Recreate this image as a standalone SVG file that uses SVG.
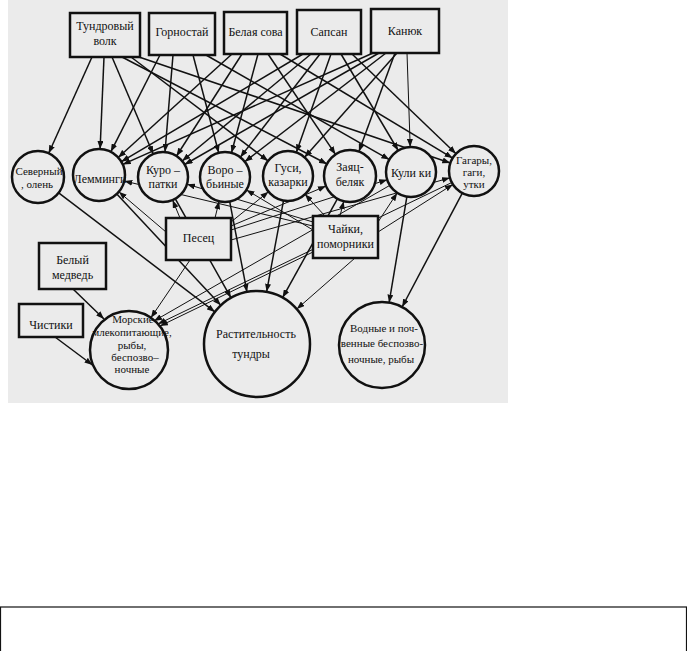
<svg xmlns="http://www.w3.org/2000/svg" width="687" height="651" viewBox="0 0 687 651">
<defs>
<marker id="ah" viewBox="0 0 8 6" refX="8" refY="3" markerWidth="8" markerHeight="6" markerUnits="userSpaceOnUse" orient="auto">
<path d="M0,0 L8,3 L0,6 z" fill="#111"/>
</marker>
</defs>
<style>
.bx{fill:#ebebeb;stroke:#111;stroke-width:2.5}
.cr{fill:#ebebeb;stroke:#111;stroke-width:2.5}
.t{font-family:"Liberation Serif","DejaVu Serif","Times New Roman",serif;font-size:12px;fill:#111;text-anchor:middle}
.s{font-size:11px}
#connectors line{stroke:#111;stroke-width:1.5;marker-end:url(#ah)}
#connectors line.th{stroke-width:1}
</style>
<rect x="0" y="0" width="687" height="651" fill="#fff"/>
<rect x="8" y="0" width="500" height="403" fill="#ebebeb"/>
<rect x="0.5" y="607" width="686" height="50" fill="#fff" stroke="#111" stroke-width="1.2"/>

<g id="connectors">
<line x1="92" y1="57" x2="48.7" y2="153.3"/>
<line x1="104" y1="57" x2="100.1" y2="149"/>
<line x1="112" y1="57" x2="153.2" y2="154"/>
<line x1="122" y1="57" x2="327" y2="164"/>
<line x1="131" y1="57" x2="268.1" y2="160.9"/>
<line x1="139" y1="57" x2="450.3" y2="163"/>
<line x1="160" y1="55" x2="110.8" y2="151.8"/>
<line x1="173" y1="55" x2="165" y2="152.1"/>
<line x1="193" y1="55" x2="218.7" y2="152.8"/>
<line x1="206" y1="55" x2="389.3" y2="159.6"/>
<line x1="232" y1="54" x2="118.2" y2="157.5"/>
<line x1="242" y1="54" x2="176.5" y2="156"/>
<line x1="258" y1="54" x2="231.5" y2="152.8"/>
<line x1="268" y1="54" x2="335.5" y2="154.4"/>
<line x1="280" y1="54" x2="452.6" y2="158.1"/>
<line x1="303" y1="54" x2="121.4" y2="161.7"/>
<line x1="311" y1="54" x2="182.2" y2="161"/>
<line x1="320" y1="54" x2="240.3" y2="157.2"/>
<line x1="331" y1="54" x2="296.3" y2="152.4"/>
<line x1="341" y1="54" x2="398.2" y2="150.5"/>
<line x1="352" y1="54" x2="456" y2="153.7"/>
<line x1="373" y1="53" x2="122.8" y2="164.4"/>
<line x1="379" y1="53" x2="184.7" y2="164.5"/>
<line x1="386" y1="53" x2="244.8" y2="161.7"/>
<line x1="397" y1="53" x2="304.6" y2="157.3"/>
<line x1="395" y1="53" x2="358.9" y2="151.6"/>
<line class="th" x1="407" y1="53" x2="410.2" y2="147"/>
<line x1="58.7" y1="192.8" x2="214.9" y2="311.9"/>
<line x1="116.8" y1="194" x2="220.8" y2="305.3"/>
<line x1="175.3" y1="198.8" x2="231" y2="297.8"/>
<line x1="229.7" y1="201.6" x2="247" y2="292"/>
<line x1="283.5" y1="200.6" x2="266.6" y2="291.8"/>
<line x1="337.4" y1="198.8" x2="282.6" y2="297.6"/>
<line x1="406.9" y1="196.7" x2="389.1" y2="302.6"/>
<line x1="462.3" y1="193.1" x2="402.1" y2="307"/>
<line class="th" x1="451.8" y1="182.5" x2="158" y2="324"/>
<line class="th" x1="389.9" y1="185.3" x2="154" y2="321"/>
<line class="th" x1="166" y1="232" x2="118.8" y2="191.8"/>
<line class="th" x1="180" y1="218" x2="172.6" y2="200.1"/>
<line class="th" x1="215" y1="218" x2="219.1" y2="201.3"/>
<line class="th" x1="231" y1="222" x2="268.5" y2="191.7"/>
<line class="th" x1="231" y1="226" x2="326" y2="186.1"/>
<line class="th" x1="231" y1="230" x2="387.2" y2="179.7"/>
<line class="th" x1="231" y1="240" x2="450" y2="177.8"/>
<line class="th" x1="190" y1="260" x2="150.9" y2="317.7"/>
<line class="th" x1="313" y1="226" x2="124.3" y2="181"/>
<line class="th" x1="313" y1="222" x2="187" y2="184.2"/>
<line class="th" x1="313" y1="230" x2="246.4" y2="189.9"/>
<line class="th" x1="325" y1="216" x2="305" y2="194.3"/>
<line class="th" x1="340" y1="216" x2="343.7" y2="201.2"/>
<line class="th" x1="378" y1="222" x2="397.2" y2="192.9"/>
<line class="th" x1="378" y1="232" x2="452.9" y2="184.4"/>
<line class="th" x1="313" y1="252" x2="160" y2="326"/>
<line class="th" x1="355" y1="258" x2="296.8" y2="309"/>
<line x1="73" y1="289" x2="104" y2="319"/>
<line x1="55" y1="337" x2="92.5" y2="365"/>
</g>

<g id="n-volk"><rect class="bx" x="70" y="13" width="70" height="44"/><text class="t" x="105" y="30">Тундровый</text><text class="t" x="105" y="45">волк</text></g>
<g id="n-gornostay"><rect class="bx" x="149" y="13" width="66" height="42"/><text class="t" x="182" y="36">Горностай</text></g>
<g id="n-sova"><rect class="bx" x="224" y="12" width="63" height="42"/><text class="t" x="255.5" y="36">Белая сова</text></g>
<g id="n-sapsan"><rect class="bx" x="297" y="10" width="64" height="44"/><text class="t" x="329" y="36">Сапсан</text></g>
<g id="n-kanyuk"><rect class="bx" x="371" y="9" width="68" height="44"/><text class="t" x="405" y="35">Канюк</text></g>

<g id="n-olen"><circle class="cr" cx="38" cy="177" r="26"/><text class="t s" x="39" y="175">Северный</text><text class="t s" x="37" y="188">, олень</text></g>
<g id="n-lemmingi"><circle class="cr" cx="99" cy="175" r="26"/><text class="t" x="100" y="183">Лемминги</text></g>
<g id="n-kuropatki"><circle class="cr" cx="163" cy="177" r="25"/><text class="t" x="163" y="174">Куро –</text><text class="t" x="163" y="188">патки</text></g>
<g id="n-vorobinye"><circle class="cr" cx="225" cy="177" r="25"/><text class="t" x="225" y="174">Воро –</text><text class="t" x="225" y="188">бьиные</text></g>
<g id="n-gusi"><circle class="cr" cx="288" cy="176" r="25"/><text class="t" x="288" y="172">Гуси,</text><text class="t" x="288" y="186">казарки</text></g>
<g id="n-zayats"><circle class="cr" cx="350" cy="176" r="26"/><text class="t" x="350" y="171">Заяц-</text><text class="t" x="350" y="186">беляк</text></g>
<g id="n-kuliki"><circle class="cr" cx="411" cy="172" r="25"/><text class="t" x="411" y="177">Кули ки</text></g>
<g id="n-gagary"><circle class="cr" cx="474" cy="171" r="25"/><text class="t s" x="474" y="164">Гагары,</text><text class="t s" x="474" y="176">гаги,</text><text class="t s" x="474" y="188">утки</text></g>

<g id="n-pesets"><rect class="bx" x="166" y="218" width="65" height="42"/><text class="t" x="198.5" y="242">Песец</text></g>
<g id="n-chayki"><rect class="bx" x="313" y="216" width="65" height="42"/><text class="t" x="345.5" y="233">Чайки,</text><text class="t" x="345.5" y="248">поморники</text></g>
<g id="n-medved"><rect class="bx" x="39" y="243" width="67" height="46"/><text class="t" x="72.5" y="264">Белый</text><text class="t" x="72.5" y="279">медведь</text></g>
<g id="n-chistiki"><rect class="bx" x="19" y="304" width="64" height="33"/><text class="t" x="51" y="329">Чистики</text></g>

<g id="n-morskie"><circle class="cr" cx="129" cy="350" r="39"/><text class="t s" x="133" y="323">Морские</text><text class="t s" x="132" y="336">млекопитающие,</text><text class="t s" x="132" y="349">рыбы,</text><text class="t s" x="135" y="361">беспозво–</text><text class="t s" x="132" y="373">ночные</text></g>
<g id="n-rast"><circle class="cr" cx="257" cy="344" r="53"/><text class="t" x="256" y="338">Растительность</text><text class="t" x="251" y="358">тундры</text></g>
<g id="n-vodnye"><circle class="cr" cx="382" cy="345" r="43"/><text class="t s" x="384" y="332">Водные и  поч-</text><text class="t s" x="382" y="347">венные беспозво-</text><text class="t s" x="381" y="363">ночные, рыбы</text></g>
</svg>
